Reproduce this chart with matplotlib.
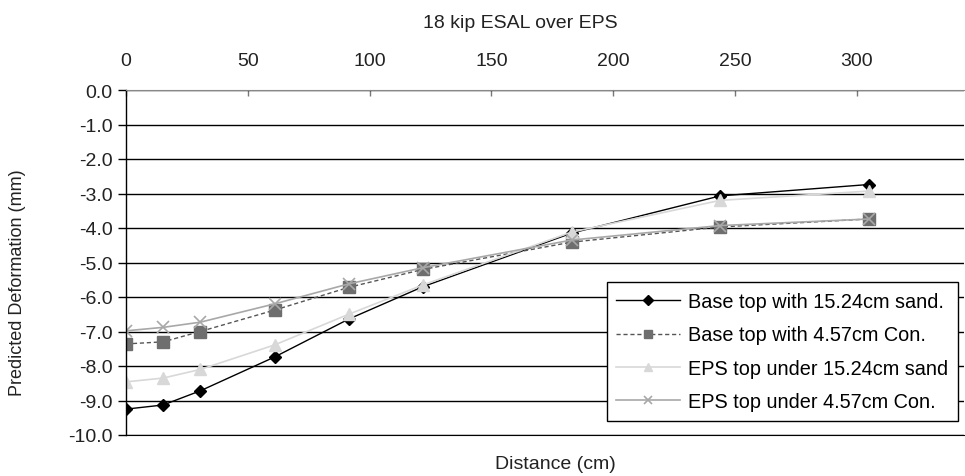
import matplotlib
matplotlib.use("Agg")
import matplotlib.pyplot as plt

plt.rcParams['font.family'] = ['Liberation Sans', 'DejaVu Sans']

# distance from load centre (cm)
distance = [0, 15.24, 30.48, 60.96, 91.44, 121.92, 182.88, 243.84, 304.8]

# predicted deformation (mm)
base_sand = [-9.25, -9.13, -8.72, -7.74, -6.64, -5.70, -4.15, -3.07, -2.74]
base_con = [-7.36, -7.30, -7.00, -6.38, -5.72, -5.20, -4.41, -3.97, -3.74]
eps_sand = [-8.46, -8.35, -8.10, -7.39, -6.50, -5.65, -4.12, -3.20, -2.93]
eps_con = [-6.98, -6.88, -6.73, -6.20, -5.62, -5.15, -4.35, -3.93, -3.74]

labels = ["Base top with 15.24cm sand.", "Base top with 4.57cm Con.",
          "EPS top under 15.24cm sand", "EPS top under 4.57cm Con."]

fig = plt.figure(figsize=(9.65, 4.77), dpi=100)
ax = fig.add_axes([126 / 965, 1 - 436 / 477, 838 / 965, 345 / 477])

ax.plot(distance, base_sand, color='black', lw=1.0, marker='D', ms=6,
        mfc='black', mec='black', label=labels[0])
ax.plot(distance, base_con, color='#555555', lw=1.0, ls=(0, (3, 2)), marker='s', ms=8,
        mfc='#6e6e6e', mec='#6e6e6e', label=labels[1])
ax.plot(distance, eps_sand, color='#d8d8d8', lw=1.2, marker='^', ms=8,
        mfc='#d8d8d8', mec='#d8d8d8', label=labels[2])
ax.plot(distance, eps_con, color='#a8a8a8', lw=1.2, marker='x', ms=8, mew=1.2,
        mfc='#a8a8a8', mec='#a8a8a8', label=labels[3])

ax.set_xlim(0, 344)
ax.set_ylim(-10, 0)
ax.set_yticks(range(-10, 1))
ax.set_yticklabels([f"{v:.1f}" for v in range(-10, 1)])
ax.set_xticks(range(0, 301, 50))
ax.xaxis.tick_top()
ax.tick_params(axis='x', direction='in', length=4, width=1, color='#777777',
               pad=15, labelsize=14, labelcolor='#222222')
ax.tick_params(axis='y', direction='out', length=6, width=1, labelsize=14,
               labelcolor='#222222')
ax.grid(axis='y', color='black', lw=1.0)
ax.spines['right'].set_visible(False)
ax.spines['bottom'].set_color('black')
ax.spines['top'].set_color('#888888')
ax.spines['left'].set_linewidth(1.0)

fig.text(520 / 965, 1 - 23 / 477, "18 kip ESAL over EPS", ha='center', va='center',
         fontsize=14, color='#222222')
fig.text(555 / 965, 1 - 465 / 477, "Distance (cm)", ha='center', va='center',
         fontsize=14, color='#222222')
fig.text(18 / 965, 1 - 283 / 477, "Predicted Deformation (mm)", rotation=90,
         ha='center', va='center', fontsize=13, color='#222222')

leg = ax.legend(loc='lower right', bbox_to_anchor=(958 / 965, 1 - 422 / 477),
                bbox_transform=fig.transFigure, frameon=True, fancybox=False,
                edgecolor='black', fontsize=14.3, handlelength=3.2, handletextpad=0.4,
                labelspacing=0.72, borderpad=0.5, borderaxespad=0, framealpha=1,
                markerscale=0.8)
leg.get_frame().set_linewidth(1.0)

fig.savefig("out.png", dpi=100)
